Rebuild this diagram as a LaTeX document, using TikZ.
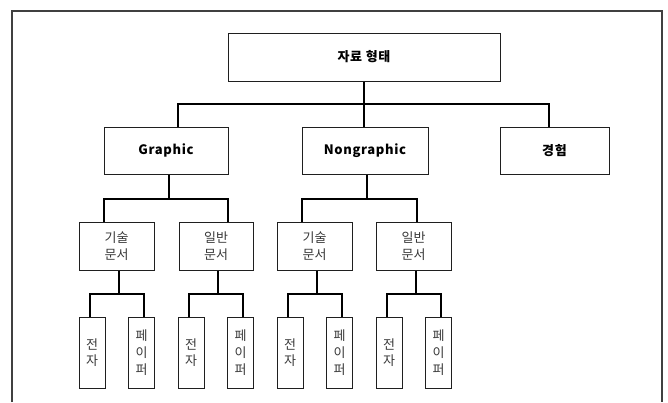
\documentclass[tikz,border=0pt]{standalone}
\usepackage{fontspec}
\setmainfont{Noto Sans CJK KR}
\newfontfamily\krsp[LetterSpace=5]{Noto Sans CJK KR}
\begin{document}
\begin{tikzpicture}[x=1pt,y=-1pt,
  box/.style={draw=black!88,line width=1pt,rectangle,inner sep=0pt,align=center},
  bigbox/.style={box,minimum height=47pt,font=\krsp\fontsize{13}{15}\selectfont\bfseries},
  midbox/.style={box,minimum height=48pt,text=black!78,font=\fontsize{13}{17}\selectfont},
  tallbox/.style={box,minimum width=26pt,minimum height=71pt,text=black!78,font=\fontsize{13}{16}\selectfont},
  conn/.style={draw=black,line width=1.3pt},
  frame/.style={draw=black!75,line width=1.2pt}]
\useasboundingbox (0,0) rectangle (668,402);
\draw[frame] (12,402) -- (12,11) -- (662,11) -- (662,402);
% level 1
\node[bigbox,minimum width=272pt,minimum height=48pt] (top) at (364,57) {자료 형태};
% level 2
\node[bigbox,minimum width=124pt] (g) at (166,150.5) {Graphic};
\node[bigbox,minimum width=126pt] (n) at (365,150.5) {Nongraphic};
\node[bigbox,minimum width=109pt] (k) at (554.5,150.5) {경험};
% level 3
\node[midbox,minimum width=75pt] (g1) at (116.5,246) {기술\\문서};
\node[midbox,minimum width=74pt] (g2) at (216,246) {일반\\문서};
\node[midbox,minimum width=75pt] (n1) at (314.5,246) {기술\\문서};
\node[midbox,minimum width=75pt] (n2) at (413.5,246) {일반\\문서};
% level 4
\node[tallbox] (g1a) at (92,352.5) {전\\자};
\node[tallbox,font=\fontsize{13}{17}\selectfont] (g1b) at (141.5,352.5) {페\\이\\퍼};
\node[tallbox] (g2a) at (191,352.5) {전\\자};
\node[tallbox,font=\fontsize{13}{17}\selectfont] (g2b) at (240.5,352.5) {페\\이\\퍼};
\node[tallbox] (n1a) at (290,352.5) {전\\자};
\node[tallbox,font=\fontsize{13}{17}\selectfont] (n1b) at (339.5,352.5) {페\\이\\퍼};
\node[tallbox] (n2a) at (389,352.5) {전\\자};
\node[tallbox,font=\fontsize{13}{17}\selectfont] (n2b) at (438.5,352.5) {페\\이\\퍼};
% connectors level 1 -> 2
\coordinate (b1) at (364,104);
\draw[conn] (top.south) -- (b1);
\draw[conn] ([xshift=12pt]g.north) |- (b1) -| ([xshift=-5.5pt]k.north);
\draw[conn] (b1) -- (n.north -| b1);
% level 2 -> 3
\coordinate (b2) at (169,199);
\draw[conn] ([xshift=3pt]g.south) -- (b2);
\draw[conn] ([xshift=-12.5pt]g1.north) |- (b2) -| ([xshift=12pt]g2.north);
\coordinate (b3) at (367,199);
\draw[conn] ([xshift=2pt]n.south) -- (b3);
\draw[conn] ([xshift=-12.5pt]n1.north) |- (b3) -| ([xshift=3.5pt]n2.north);
% level 3 -> 4
\foreach \p/\a/\b/\xp in {g1/g1a/g1b/119, g2/g2a/g2b/218, n1/n1a/n1b/317, n2/n2a/n2b/416}{
  \draw[conn] (\p.south -| \xp,0) -- (\xp,294) coordinate (bb\p);
  \draw[conn] ([xshift=-2pt]\a.north) |- (bb\p) -| ([xshift=2.5pt]\b.north);
}
\end{tikzpicture}
\end{document}
